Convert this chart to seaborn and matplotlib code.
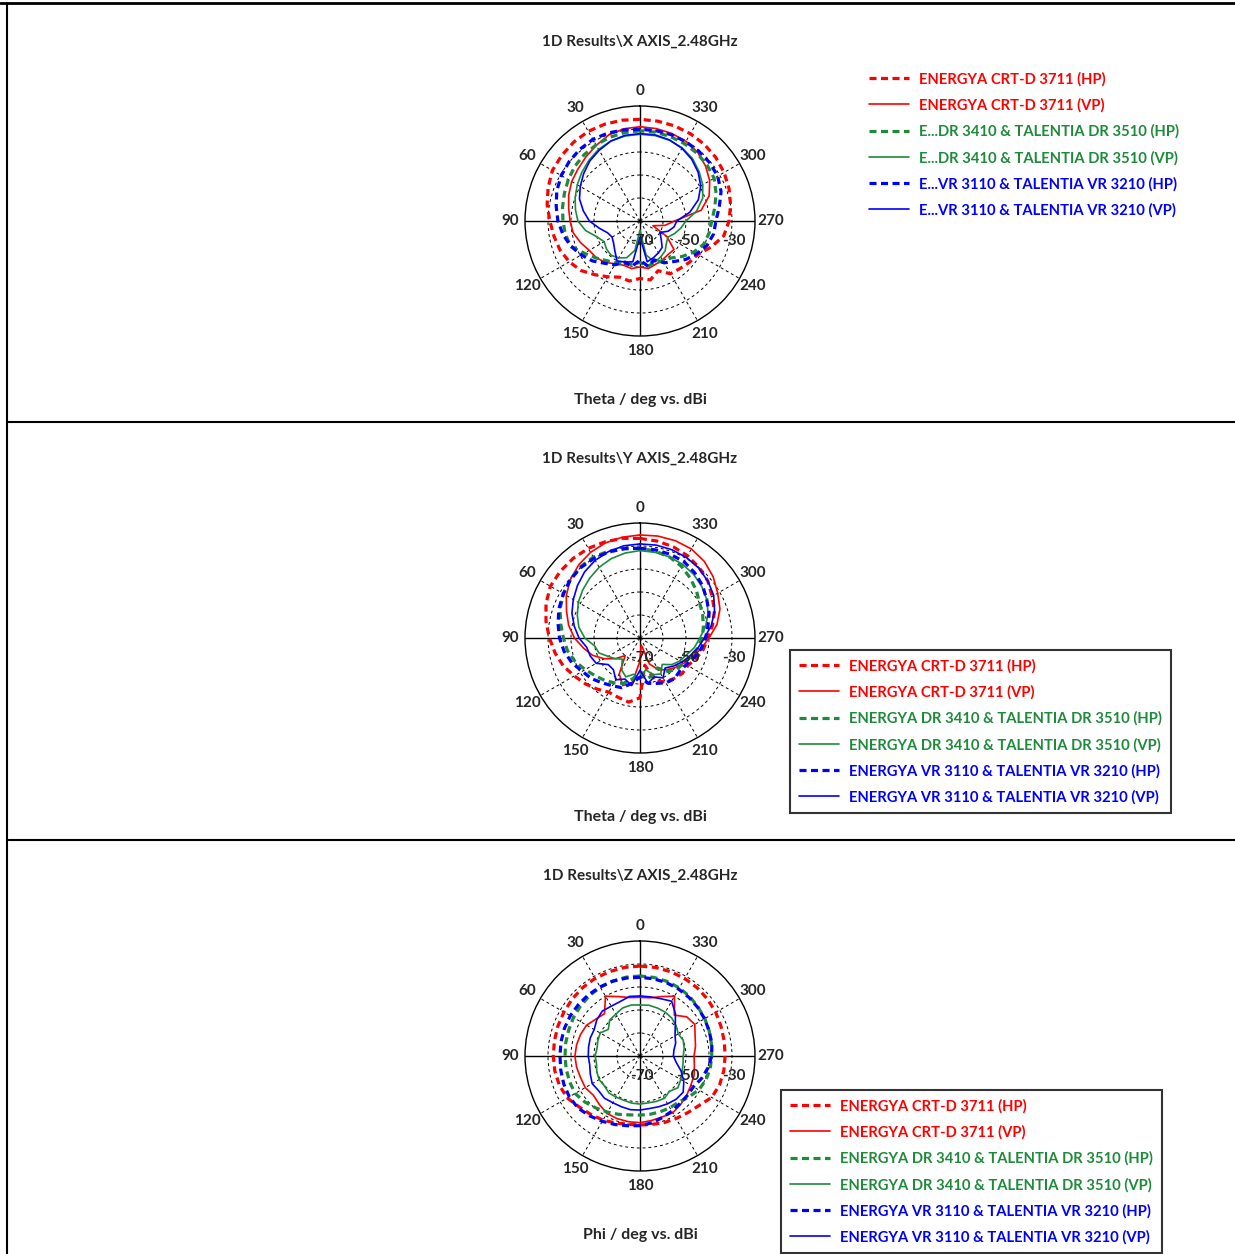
import numpy as np
import pandas as pd
import seaborn as sns
import matplotlib.pyplot as plt
from matplotlib.lines import Line2D
from matplotlib.transforms import offset_copy

# angles of the cuts (deg), one value every 10 deg
angle_deg = np.arange(0, 360, 10)

# X axis cut (theta), gain in dBi
x_crt_hp = [-25.8, -25.5, -25.2, -25.0, -25.2, -25.6, -26.0, -27.5, -29.0, -30.8, -32.0, -33.0,
            -34.5, -36.5, -39.5, -42.0, -44.0, -43.5, -45.0, -44.0, -47.0, -43.5, -43.0, -42.0,
            -41.0, -37.0, -33.0, -31.3, -30.0, -28.8, -27.8, -27.0, -26.5, -26.2, -26.0, -25.9]
x_crt_vp = [-29.0, -29.3, -30.2, -32.0, -33.5, -34.8, -35.7, -37.0, -38.5, -39.6, -40.5, -42.5,
            -44.5, -45.2, -46.5, -48.5, -49.5, -49.0, -50.0, -49.0, -50.0, -50.5, -51.0, -50.7,
            -56.5, -64.0, -59.0, -55.0, -43.0, -38.0, -35.0, -32.8, -31.0, -30.0, -29.5, -29.2]
x_dr_hp = [-30.8, -31.0, -31.3, -31.8, -32.3, -33.0, -34.0, -35.0, -35.8, -36.5, -37.0, -38.0,
           -42.0, -45.0, -47.5, -49.0, -50.0, -51.0, -52.0, -50.0, -51.0, -50.0, -49.0, -46.0,
           -43.0, -40.5, -39.5, -38.8, -37.0, -34.8, -32.8, -32.0, -31.5, -31.2, -31.0, -30.8]
x_dr_vp = [-32.3, -32.5, -33.0, -34.0, -35.5, -37.0, -38.5, -40.0, -41.5, -43.0, -46.0, -50.0,
           -52.0, -51.0, -50.5, -51.5, -53.0, -57.0, -66.0, -55.0, -51.0, -52.0, -53.0, -55.0,
           -56.0, -54.0, -52.0, -50.0, -45.0, -41.0, -38.5, -36.5, -34.5, -33.3, -32.6, -32.3]
x_vr_hp = [-30.1, -29.8, -29.3, -29.0, -29.3, -29.8, -30.5, -31.5, -33.0, -34.3, -36.0, -38.0,
           -40.5, -43.0, -46.0, -48.0, -51.0, -50.0, -53.0, -50.0, -52.0, -49.0, -47.0, -44.0,
           -41.5, -39.0, -37.5, -37.0, -35.0, -32.5, -31.0, -30.5, -30.3, -30.2, -30.1, -30.1]
x_vr_vp = [-32.0, -32.2, -33.0, -34.5, -36.0, -38.0, -40.0, -42.0, -45.0, -48.0, -52.0, -55.0,
           -56.0, -55.0, -53.0, -50.0, -51.0, -52.0, -63.0, -52.0, -53.0, -54.0, -55.0, -58.0,
           -60.0, -57.0, -55.0, -54.0, -48.0, -43.0, -39.5, -37.0, -35.0, -33.5, -32.5, -32.0]

# Y axis cut (theta)
y_crt_hp = [-26.7, -26.0, -25.5, -25.0, -24.8, -24.8, -25.0, -26.5, -28.5, -30.6, -32.5, -34.5,
            -37.0, -39.0, -41.0, -42.8, -42.5, -41.7, -44.0, -58.0, -50.0, -48.0, -47.0, -46.0,
            -46.0, -44.0, -42.0, -40.5, -38.0, -35.5, -33.8, -31.5, -30.0, -28.7, -27.8, -27.2]
y_crt_vp = [-25.2, -25.5, -26.0, -27.0, -28.5, -30.5, -33.0, -36.0, -38.5, -41.5, -45.0, -48.0,
            -52.0, -56.0, -60.0, -52.0, -48.0, -50.0, -60.0, -67.0, -58.0, -54.0, -52.0, -50.0,
            -48.0, -46.0, -43.0, -40.0, -36.0, -33.0, -31.0, -28.5, -26.5, -25.3, -25.0, -25.0]
y_dr_hp = [-31.0, -30.5, -29.8, -29.4, -29.6, -30.5, -31.6, -33.0, -35.0, -36.7, -38.0, -40.0,
           -42.5, -44.5, -46.0, -47.5, -49.0, -52.0, -55.0, -52.0, -53.0, -55.0, -51.0, -49.0,
           -48.0, -46.5, -44.5, -43.0, -42.0, -41.0, -40.0, -38.0, -36.0, -34.0, -32.5, -31.6]
y_dr_vp = [-32.0, -32.5, -33.3, -34.5, -36.0, -37.5, -39.0, -41.0, -43.0, -46.0, -50.0, -51.0,
           -54.0, -56.0, -58.0, -54.0, -52.0, -54.0, -52.0, -56.0, -53.0, -52.0, -55.0, -52.0,
           -50.0, -48.5, -46.0, -44.0, -41.0, -38.5, -36.5, -35.0, -33.8, -33.0, -32.5, -32.2]
y_vr_hp = [-31.0, -30.6, -30.2, -30.0, -30.0, -30.5, -31.5, -32.5, -33.8, -35.0, -36.5, -38.5,
           -41.0, -42.5, -44.5, -46.0, -47.0, -50.0, -53.0, -50.0, -49.0, -47.5, -46.8, -47.5,
           -46.8, -45.0, -43.0, -41.5, -40.0, -38.0, -36.5, -34.5, -33.0, -31.7, -31.3, -31.1]
y_vr_vp = [-29.1, -29.3, -30.0, -31.0, -32.5, -34.5, -36.5, -38.5, -41.0, -43.5, -46.5, -47.0,
           -48.0, -52.0, -52.0, -49.0, -51.0, -49.0, -56.0, -50.0, -52.0, -50.0, -53.0, -51.0,
           -49.0, -47.0, -44.5, -42.0, -38.5, -35.5, -33.0, -31.5, -30.3, -29.6, -29.2, -29.0]

# Z axis cut (phi)
z_crt_hp = [-30.9, -30.9, -31.0, -31.0, -31.2, -31.5, -31.8, -32.0, -32.2, -32.3, -32.4, -32.7,
            -33.5, -35.5, -36.8, -37.8, -39.0, -39.8, -40.0, -39.8, -39.2, -38.6, -37.8, -36.5,
            -34.0, -33.2, -33.0, -33.0, -32.8, -32.5, -32.0, -31.6, -31.3, -31.1, -31.0, -30.9]
z_crt_vp = [-44.5, -44.2, -42.5, -40.0, -46.0, -45.0, -43.2, -42.5, -42.0, -41.7, -42.0, -42.5,
            -42.5, -43.5, -42.5, -41.2, -41.0, -41.0, -41.0, -41.5, -41.8, -41.5, -42.5, -43.5,
            -44.5, -45.0, -46.0, -46.5, -45.5, -44.5, -42.5, -43.5, -46.8, -40.0, -42.5, -44.3]
z_dr_hp = [-35.2, -35.2, -35.3, -35.5, -35.8, -36.2, -36.6, -37.0, -37.2, -37.4, -37.4, -37.4,
           -37.4, -38.8, -40.4, -41.8, -43.0, -44.0, -44.3, -44.3, -44.2, -44.0, -43.8, -42.3,
           -40.5, -39.5, -39.0, -38.8, -38.5, -38.0, -37.5, -37.0, -36.3, -35.8, -35.5, -35.3]
z_dr_vp = [-47.8, -47.5, -47.8, -49.0, -49.5, -52.0, -50.0, -50.5, -51.0, -50.5, -50.8, -50.0,
           -49.5, -49.8, -49.0, -49.3, -49.5, -49.2, -49.1, -49.3, -49.0, -48.8, -50.0, -48.5,
           -49.5, -50.5, -51.0, -51.2, -50.5, -50.0, -50.8, -49.5, -48.5, -48.0, -47.8, -47.6]
z_vr_hp = [-35.8, -35.6, -35.4, -35.3, -35.2, -35.1, -35.0, -35.0, -35.1, -35.2, -35.0, -34.7,
           -34.5, -34.8, -36.0, -37.2, -38.3, -39.2, -39.7, -40.5, -41.5, -42.3, -43.0, -43.2,
           -43.2, -41.5, -40.0, -38.8, -38.3, -38.0, -37.6, -37.2, -36.8, -36.4, -36.1, -35.9]
z_vr_vp = [-43.9, -43.7, -44.8, -45.0, -44.5, -45.5, -47.0, -47.0, -47.3, -47.5, -47.8, -47.0,
           -46.0, -46.5, -46.0, -46.5, -46.5, -46.3, -46.5, -46.8, -46.5, -46.0, -45.5, -45.5,
           -48.0, -51.0, -54.0, -55.5, -55.0, -53.5, -52.4, -50.0, -46.0, -42.5, -43.5, -43.9]

names_full = ['ENERGYA CRT-D 3711 (HP)', 'ENERGYA CRT-D 3711 (VP)',
              'ENERGYA DR 3410 & TALENTIA DR 3510 (HP)', 'ENERGYA DR 3410 & TALENTIA DR 3510 (VP)',
              'ENERGYA VR 3110 & TALENTIA VR 3210 (HP)', 'ENERGYA VR 3110 & TALENTIA VR 3210 (VP)']
names_short = ['ENERGYA CRT-D 3711 (HP)', 'ENERGYA CRT-D 3711 (VP)',
               'E...DR 3410 & TALENTIA DR 3510 (HP)', 'E...DR 3410 & TALENTIA DR 3510 (VP)',
               'E...VR 3110 & TALENTIA VR 3210 (HP)', 'E...VR 3110 & TALENTIA VR 3210 (VP)']
colors = ['#ff0000', '#ff0000', '#1e8b3a', '#1e8b3a', '#0000ff', '#0000ff']
pol = ['HP', 'VP', 'HP', 'VP', 'HP', 'VP']

theta_labels = [str(a) for a in range(0, 360, 30)]
r_labels = [-70, -50, -30]

panels = [
    dict(title='1D Results\\X AXIS_2.48GHz', xlabel='Theta / deg vs. dBi',
         data=[x_crt_hp, x_crt_vp, x_dr_hp, x_dr_vp, x_vr_hp, x_vr_vp],
         names=names_short, frame=False, leg_xy=(860, 63)),
    dict(title='1D Results\\Y AXIS_2.48GHz', xlabel='Theta / deg vs. dBi',
         data=[y_crt_hp, y_crt_vp, y_dr_hp, y_dr_vp, y_vr_hp, y_vr_vp],
         names=names_full, frame=True, leg_xy=(790, 650)),
    dict(title='1D Results\\Z AXIS_2.48GHz', xlabel='Phi / deg vs. dBi',
         data=[z_crt_hp, z_crt_vp, z_dr_hp, z_dr_vp, z_vr_hp, z_vr_vp],
         names=names_full, frame=True, leg_xy=(781, 1090)),
]

sns.set_theme(style='white')
plt.rcParams['font.family'] = ['Lato', 'DejaVu Sans']
plt.rcParams['font.weight'] = 'bold'

W, H = 1235, 1254
fig = plt.figure(figsize=(W / 100, H / 100), dpi=100)
fig.patch.set_facecolor('white')
R = 115
cx = 640
centres = [221, 638, 1056]
title_y = [42, 459, 876]
label_y = [400, 817, 1235]

for p, cy, ty, ly in zip(panels, centres, title_y, label_y):
    ax = fig.add_axes([(cx - R) / W, 1 - (cy + R) / H, 2 * R / W, 2 * R / H], projection='polar')
    for vals, c, hv in zip(p['data'], colors, pol):
        df = pd.DataFrame({'theta': np.deg2rad(np.append(angle_deg, 360)),
                           'gain': np.append(vals, vals[0])})
        if hv == 'HP':
            sns.lineplot(data=df, x='theta', y='gain', ax=ax, color=c, lw=2.3,
                         linestyle=(0, (2.2, 1.4)), sort=False, estimator=None)
        else:
            sns.lineplot(data=df, x='theta', y='gain', ax=ax, color=c, lw=1.2,
                         sort=False, estimator=None)
    ax.set_xlabel('')
    ax.set_ylabel('')
    ax.set_theta_zero_location('N')
    ax.set_theta_direction(1)
    ax.set_ylim(-70, -20)
    ax.set_yticks([-60, -50, -40, -30])
    ax.set_yticklabels([])
    ax.set_xticks(np.deg2rad(np.arange(0, 360, 30)))
    ax.set_xticklabels(theta_labels, fontsize=11, fontweight='bold')
    ax.tick_params(axis='x', pad=-2)
    ax.grid(True, color='black', linestyle=(0, (3, 3)), linewidth=0.7)
    for i, gl in enumerate(ax.xaxis.get_gridlines()):
        if i % 3 == 0:
            gl.set_linestyle('-')
            gl.set_linewidth(1.0)
    ax.spines['polar'].set_color('black')
    ax.spines['polar'].set_linewidth(1.0)
    trans = offset_copy(ax.transData, fig=fig, x=2, y=-20, units='dots')
    for r in r_labels:
        ax.text(np.deg2rad(270), r, str(r), transform=trans, ha='center', va='center',
                fontsize=11, fontweight='bold', clip_on=False)

    fig.text(cx / W, 1 - ty / H, p['title'], ha='center', va='center', fontsize=11,
             fontweight='bold')
    fig.text(cx / W, 1 - ly / H, p['xlabel'], ha='center', va='center', fontsize=11.5,
             fontweight='bold')

    handles = ax.get_lines()[:6]
    leg = fig.legend(handles, p['names'], loc='upper left',
                     bbox_to_anchor=(p['leg_xy'][0] / W, 1 - p['leg_xy'][1] / H),
                     frameon=p['frame'], labelcolor='linecolor', fontsize=10.6,
                     handlelength=2.7, handletextpad=0.7, labelspacing=0.8,
                     borderaxespad=0, borderpad=0.6, fancybox=False, edgecolor='black')
    leg.get_frame().set_linewidth(1.5)

# panel borders
fig.add_artist(Line2D([0, 1], [1 - 3 / H, 1 - 3 / H], color='black', lw=2, transform=fig.transFigure))
fig.add_artist(Line2D([7 / W, 7 / W], [0, 1 - 3 / H], color='black', lw=1.5, transform=fig.transFigure))
for yy in [421.5, 840]:
    fig.add_artist(Line2D([7 / W, 1], [1 - yy / H, 1 - yy / H], color='black', lw=1.5,
                          transform=fig.transFigure))

fig.savefig('out.png', dpi=100, facecolor='white')
